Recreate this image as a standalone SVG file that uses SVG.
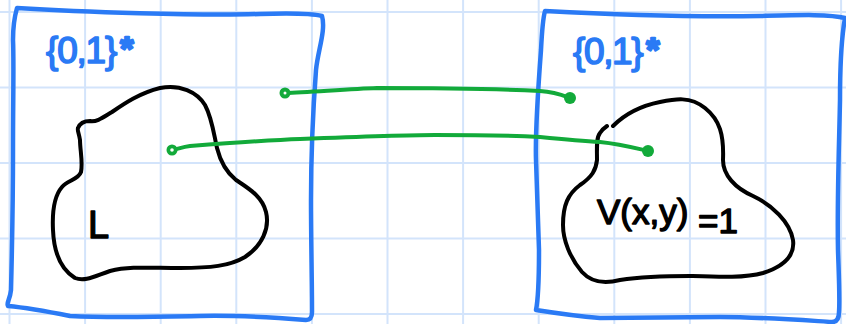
<svg xmlns="http://www.w3.org/2000/svg" width="846" height="324" viewBox="0 0 846 324">
  <style>
    .grid line { stroke: #d3e4fb; stroke-width: 2; }
    .box { fill: none; stroke: #2a7af5; stroke-width: 4.5; stroke-linejoin: round; stroke-linecap: round; }
    .blob { fill: none; stroke: #000; stroke-width: 4; stroke-linejoin: round; stroke-linecap: round; }
    .conn { fill: none; stroke: #12aa3a; stroke-width: 4; stroke-linecap: round; }
    .dot { fill: #12aa3a; }
    .lbl { font-family: "Liberation Sans", Arial, sans-serif; fill: #2a7af5; stroke: #2a7af5; stroke-width: 1.6; stroke-linejoin: round; }
    .star { font-weight: bold; stroke-width: 2.5; }
    .math { font-family: "Liberation Sans", Arial, sans-serif; fill: #000; stroke: #000; stroke-width: 1.4; stroke-linejoin: round; }
  </style>
  <rect width="846" height="324" fill="#fff"/>
  <g class="grid">
    <line x1="9.5" y1="0" x2="9.5" y2="324"/>
    <line x1="85.1" y1="0" x2="85.1" y2="324"/>
    <line x1="160.7" y1="0" x2="160.7" y2="324"/>
    <line x1="236.3" y1="0" x2="236.3" y2="324"/>
    <line x1="311.9" y1="0" x2="311.9" y2="324"/>
    <line x1="387.5" y1="0" x2="387.5" y2="324"/>
    <line x1="463.1" y1="0" x2="463.1" y2="324"/>
    <line x1="538.7" y1="0" x2="538.7" y2="324"/>
    <line x1="614.3" y1="0" x2="614.3" y2="324"/>
    <line x1="689.9" y1="0" x2="689.9" y2="324"/>
    <line x1="765.5" y1="0" x2="765.5" y2="324"/>
    <line x1="841.1" y1="0" x2="841.1" y2="324"/>
    <line x1="0" y1="12" x2="846" y2="12"/>
    <line x1="0" y1="87.5" x2="846" y2="87.5"/>
    <line x1="0" y1="163" x2="846" y2="163"/>
    <line x1="0" y1="238.5" x2="846" y2="238.5"/>
    <line x1="0" y1="314" x2="846" y2="314"/>
  </g>

  <g id="box-left">
    <path class="box" d="M17 8 C80 12 200 16 260 14 C290 13 310 13 322 16 C326 30 318 50 316 70 C313 110 311 160 311 200 C311 240 312 280 312 312 C312 318 310 320 306 320 C280 318 240 315 200 316 C150 317 110 318 70 316 C50 312 30 308 8 306 C6 303 10 300 11 290 C12 250 13 200 13 150 C13 100 14 60 13 40 C13 25 15 15 17 8 Z"/>
    <text class="lbl" x="46" y="63" font-size="37" letter-spacing="-1.2">{0,1}<tspan class="star" dx="4" dy="-3" font-size="34">*</tspan></text>
  </g>

  <g id="box-right">
    <path class="box" d="M545 11 C620 15 700 17 760 16 C800 15 830 14 845 18 C841 40 840 70 840 100 C839 150 837 200 838 250 C839 280 840 300 839 312 C839 320 836 322 832 322 C800 320 760 317 720 317 C680 317 640 318 600 318 C575 316 555 313 536 310 C538 300 539 280 539 250 C538 220 537 190 536 160 C535 130 538 90 541 50 C542 30 543 18 545 11 Z"/>
    <text class="lbl" x="573" y="64" font-size="37" letter-spacing="-1.4">{0,1}<tspan class="star" dx="4" dy="-3" font-size="34">*</tspan></text>
  </g>

  <g id="blob-L">
    <path class="blob" d="M78 128 C80 123 84 121 90 121 C97 122 102 118 112 112 C125 103 140 93 160 88 C180 84 197 92 205 105 C212 118 214 135 217 148 C220 160 226 172 236 180 C248 188 262 196 266 212 C270 228 262 246 245 257 C230 266 210 268 180 268 C150 268 130 266 110 271 C95 276 85 282 75 278 C62 270 54 255 53 230 C52 210 55 195 62 187 C68 180 78 180 81 172 C83 162 80 150 80 140 C79 133 77 130 78 128 Z"/>
    <text class="math" x="88" y="238" font-size="38">L</text>
  </g>

  <g id="blob-V">
    <path class="blob" d="M613 126 C625 114 640 106 660 102 C675 99 690 96 705 108 C720 120 724 135 723 160 C723 175 735 188 753 196 C772 205 790 222 793 240 C795 255 785 266 763 273 C745 278 720 277 690 276 C660 276 640 277 620 280 C605 284 592 283 582 272 C570 258 563 240 563 225 C563 205 568 194 580 185 C592 177 596 170 597 160 C597 148 596 138 600 133 C602 130 604 128 607 126"/>
    <text class="math" x="597" y="224" font-size="35">V(x,y)<tspan dy="9"> =1</tspan></text>
  </g>

  <g id="connectors">
    <path class="conn" d="M285 93 C310 92 350 89 377 88 C430 88 500 89 540 91 C555 92 562 95 570 98"/>
    <path class="conn" d="M172 150 C178 149 182 147 190 146 C230 143 270 140 300 139 C350 137 400 135 435 135 C480 135 520 136 540 137 C560 139 580 141 600 142 C620 144 635 148 648 151"/>
    <circle cx="285" cy="93" r="5.5" class="dot"/>
    <circle cx="285" cy="93" r="1.5" fill="#fff"/>
    <circle cx="570" cy="98" r="6" class="dot"/>
    <circle cx="172" cy="150" r="5.5" class="dot"/>
    <circle cx="172" cy="150" r="1.8" fill="#fff"/>
    <circle cx="648" cy="151" r="6" class="dot"/>
  </g>
</svg>
